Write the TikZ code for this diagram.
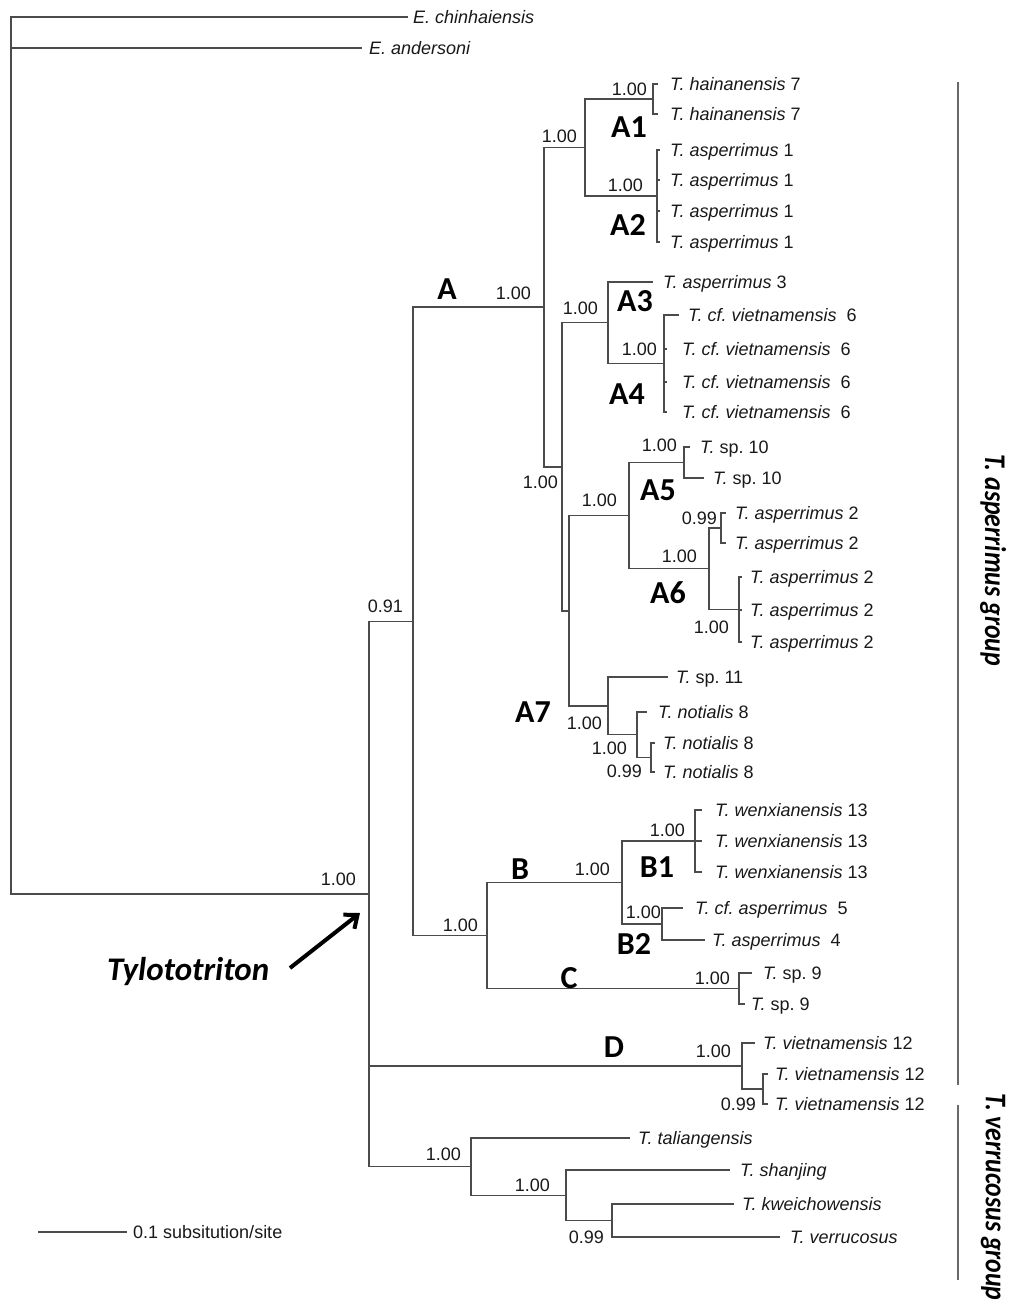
\documentclass[tikz,border=0pt]{standalone}
\usepackage{fontspec}
\setmainfont{Liberation Sans}
\newfontfamily\carlito{Carlito}
\usetikzlibrary{calc,arrows.meta}
\definecolor{linec}{RGB}{75,75,75}
\definecolor{txt}{RGB}{25,25,25}
\definecolor{grp}{RGB}{105,105,105}
\frenchspacing
\begin{document}
\begin{tikzpicture}[x=1pt,y=-1pt,
  br/.style={draw=linec, line width=1.4pt},
  leaf/.style={anchor=base west, inner sep=0pt, font=\fontsize{18}{20}\selectfont, text=txt},
  bs/.style={inner sep=0pt, font=\fontsize{18}{20}\selectfont, text=txt},
  bsa/.style={bs, anchor=south east},
  bsb/.style={bs, anchor=north east},
  clade/.style={inner sep=0pt, anchor=center, text=black, font=\carlito\bfseries\fontsize{32}{34}\selectfont},
  grpline/.style={draw=grp, line width=2.6pt},
  grplab/.style={inner sep=0pt, rotate=-90, text=black, font=\carlito\bfseries\itshape\fontsize{30}{32}\selectfont}
]
\fill[white] (0,0) rectangle (1011,1302);
\useasboundingbox (0,0) rectangle (1011,1302);

% ---------- internal nodes ----------
\coordinate (root) at (11,455.5);
\coordinate (nT)   at (369,894);
\coordinate (n091) at (413,621.3);
\coordinate (nA)   at (544,307.1);
\coordinate (nA12) at (585,147.5);
\coordinate (nA1)  at (653,99);
\coordinate (nA2)  at (657,196);
\coordinate (n562) at (562,466.8);
\coordinate (nA34) at (608,322.75);
\coordinate (nA4)  at (664,363.5);
\coordinate (n569) at (569,610.8);
\coordinate (nA56) at (629,515.6);
\coordinate (nA5)  at (684,462.5);
\coordinate (nA6)  at (709,568.75);
\coordinate (nA6a) at (721,528);
\coordinate (nA6b) at (739,609.5);
\coordinate (nA7)  at (608,705.9);
\coordinate (nN)   at (637,734.75);
\coordinate (nN2)  at (651,757.5);
\coordinate (nBC)  at (487,935.5);
\coordinate (nB)   at (622,882.5);
\coordinate (nB1)  at (695,841);
\coordinate (nB2)  at (662,924);
\coordinate (nC)   at (739,988.5);
\coordinate (nD)   at (742,1066);
\coordinate (nD2)  at (763,1089);
\coordinate (nV)   at (471,1166.6);
\coordinate (nV2)  at (566,1195.25);
\coordinate (nV3)  at (612,1220.5);

% ---------- leaf tips ----------
\coordinate (tChin) at (408,17);
\coordinate (tAnd)  at (362,48);
\coordinate (tH1) at (658,84);
\coordinate (tH2) at (658,114);
\coordinate (tP1a) at (660,150);
\coordinate (tP1b) at (660,180);
\coordinate (tP1c) at (660,211);
\coordinate (tP1d) at (660,242);
\coordinate (tP3) at (653,282);
\coordinate (tV1) at (679,315);
\coordinate (tV2) at (667,349);
\coordinate (tV3) at (667,382);
\coordinate (tV4) at (667,412);
\coordinate (tS10a) at (690,447);
\coordinate (tS10b) at (704,478);
\coordinate (tP2a) at (726,513);
\coordinate (tP2b) at (726,543);
\coordinate (tP2c) at (742,577);
\coordinate (tP2d) at (742,610);
\coordinate (tP2e) at (742,642);
\coordinate (tS11) at (668,677);
\coordinate (tN1) at (647,712);
\coordinate (tN2) at (655,743);
\coordinate (tN3) at (655,772);
\coordinate (tW1) at (702,810);
\coordinate (tW2) at (702,841);
\coordinate (tW3) at (702,872);
\coordinate (tCA5) at (683,908);
\coordinate (tA4) at (705,940);
\coordinate (tS9a) at (752,973);
\coordinate (tS9b) at (745,1004);
\coordinate (tVi1) at (755,1043);
\coordinate (tVi2) at (768,1074);
\coordinate (tVi3) at (768,1104);
\coordinate (tTal) at (630,1138);
\coordinate (tSha) at (730,1170);
\coordinate (tKwe) at (734,1204);
\coordinate (tVer) at (780,1237);

% ---------- branches ----------
\draw[br] (root) |- (tChin);
\draw[br] (root) |- (tAnd);
\draw[br] (root) |- (nT);
\draw[br] (nT) |- (n091);
\draw[br] (nT) |- (nD);
\draw[br] (nT) |- (nV);
\draw[br] (n091) |- (nA);
\draw[br] (n091) |- (nBC);
\draw[br] (nA) |- (nA12);
\draw[br] (nA) |- (n562);
\draw[br] (nA12) |- (nA1);
\draw[br] (nA12) |- (nA2);
\draw[br] (nA1) |- (tH1);
\draw[br] (nA1) |- (tH2);
\draw[br] (nA2) |- (tP1a);
\draw[br] (nA2) |- (tP1b);
\draw[br] (nA2) |- (tP1c);
\draw[br] (nA2) |- (tP1d);
\draw[br] (n562) |- (nA34);
\draw[br] (n562) |- (n569);
\draw[br] (nA34) |- (tP3);
\draw[br] (nA34) |- (nA4);
\draw[br] (nA4) |- (tV1);
\draw[br] (nA4) |- (tV2);
\draw[br] (nA4) |- (tV3);
\draw[br] (nA4) |- (tV4);
\draw[br] (n569) |- (nA56);
\draw[br] (n569) |- (nA7);
\draw[br] (nA56) |- (nA5);
\draw[br] (nA56) |- (nA6);
\draw[br] (nA5) |- (tS10a);
\draw[br] (nA5) |- (tS10b);
\draw[br] (nA6) |- (nA6a);
\draw[br] (nA6) |- (nA6b);
\draw[br] (nA6a) |- (tP2a);
\draw[br] (nA6a) |- (tP2b);
\draw[br] (nA6b) |- (tP2c);
\draw[br] (nA6b) |- (tP2d);
\draw[br] (nA6b) |- (tP2e);
\draw[br] (nA7) |- (tS11);
\draw[br] (nA7) |- (nN);
\draw[br] (nN) |- (tN1);
\draw[br] (nN) |- (nN2);
\draw[br] (nN2) |- (tN2);
\draw[br] (nN2) |- (tN3);
\draw[br] (nBC) |- (nB);
\draw[br] (nBC) |- (nC);
\draw[br] (nB) |- (nB1);
\draw[br] (nB) |- (nB2);
\draw[br] (nB1) |- (tW1);
\draw[br] (nB1) |- (tW2);
\draw[br] (nB1) |- (tW3);
\draw[br] (nB2) |- (tCA5);
\draw[br] (nB2) |- (tA4);
\draw[br] (nC) |- (tS9a);
\draw[br] (nC) |- (tS9b);
\draw[br] (nD) |- (tVi1);
\draw[br] (nD) |- (nD2);
\draw[br] (nD2) |- (tVi2);
\draw[br] (nD2) |- (tVi3);
\draw[br] (nV) |- (tTal);
\draw[br] (nV) |- (nV2);
\draw[br] (nV2) |- (tSha);
\draw[br] (nV2) |- (nV3);
\draw[br] (nV3) |- (tKwe);
\draw[br] (nV3) |- (tVer);

% ---------- leaf labels ----------
\node[leaf] (lChin) at (413,23.5) {\textit{E. chinhaiensis}};
\node[leaf] (lAnd) at (369,54.5) {\textit{E. andersoni}};
\node[leaf] (lH1) at (670,90.5) {\textit{T. hainanensis} 7};
\node[leaf] (lH2) at (670,120.5) {\textit{T. hainanensis} 7};
\node[leaf] (lP1a) at (670,156.5) {\textit{T. asperrimus} 1};
\node[leaf] (lP1b) at (670,186.5) {\textit{T. asperrimus} 1};
\node[leaf] (lP1c) at (670,217.5) {\textit{T. asperrimus} 1};
\node[leaf] (lP1d) at (670,248.5) {\textit{T. asperrimus} 1};
\node[leaf] (lP3) at (663,288.5) {\textit{T. asperrimus} 3};
\node[leaf] (lV1) at (688,321.5) {\textit{T. cf. vietnamensis}\ \ 6};
\node[leaf] (lV2) at (682,355.5) {\textit{T. cf. vietnamensis}\ \ 6};
\node[leaf] (lV3) at (682,388.5) {\textit{T. cf. vietnamensis}\ \ 6};
\node[leaf] (lV4) at (682,418.5) {\textit{T. cf. vietnamensis}\ \ 6};
\node[leaf] (lS10a) at (700,453.5) {\textit{T.} sp. 10};
\node[leaf] (lS10b) at (713,484.5) {\textit{T.} sp. 10};
\node[leaf] (lP2a) at (735,519.5) {\textit{T. asperrimus} 2};
\node[leaf] (lP2b) at (735,549.5) {\textit{T. asperrimus} 2};
\node[leaf] (lP2c) at (750,583.5) {\textit{T. asperrimus} 2};
\node[leaf] (lP2d) at (750,616.5) {\textit{T. asperrimus} 2};
\node[leaf] (lP2e) at (750,648.5) {\textit{T. asperrimus} 2};
\node[leaf] (lS11) at (676,683.5) {\textit{T.} sp. 11};
\node[leaf] (lN1) at (658,718.5) {\textit{T. notialis} 8};
\node[leaf] (lN2) at (663,749.5) {\textit{T. notialis} 8};
\node[leaf] (lN3) at (663,778.5) {\textit{T. notialis} 8};
\node[leaf] (lW1) at (715,816.5) {\textit{T. wenxianensis} 13};
\node[leaf] (lW2) at (715,847.5) {\textit{T. wenxianensis} 13};
\node[leaf] (lW3) at (715,878.5) {\textit{T. wenxianensis} 13};
\node[leaf] (lCA5) at (695,914.5) {\textit{T. cf. asperrimus}\ \ 5};
\node[leaf] (lA4) at (712,946.5) {\textit{T. asperrimus}\ \ 4};
\node[leaf] (lS9a) at (763,979.5) {\textit{T.} sp. 9};
\node[leaf] (lS9b) at (751,1010.5) {\textit{T.} sp. 9};
\node[leaf] (lVi1) at (763,1049.5) {\textit{T. vietnamensis} 12};
\node[leaf] (lVi2) at (775,1080.5) {\textit{T. vietnamensis} 12};
\node[leaf] (lVi3) at (775,1110.5) {\textit{T. vietnamensis} 12};
\node[leaf] (lTal) at (638,1144.5) {\textit{T. taliangensis}};
\node[leaf] (lSha) at (740,1176.5) {\textit{T. shanjing}};
\node[leaf] (lKwe) at (742,1210.5) {\textit{T. kweichowensis}};
\node[leaf] (lVer) at (790,1243.5) {\textit{T. verrucosus}};

% ---------- support values ----------
\node[bsa] (sT)   at ($(nT)+(-13,-8)$) {1.00};
\node[bsa] (s091) at ($(n091)+(-10,-8)$) {0.91};
\node[bsa] (sBC)  at ($(nBC)+(-9,-4)$) {1.00};
\node[bsa] (sA)   at ($(nA)+(-13,-7.5)$) {1.00};
\node[bsa] (sA12) at ($(nA12)+(-8,-5)$) {1.00};
\node[bsa] (sA1)  at ($(nA1)+(-6,-3.5)$) {1.00};
\node[bsa] (sA2)  at ($(nA2)+(-14,-4.5)$) {1.00};
\node[bsa] (sA34) at ($(nA34)+(-10,-8)$) {1.00};
\node[bsa] (sA4)  at ($(nA4)+(-7,-8)$) {1.00};
\node[bsb] (s562) at ($(n562)+(-4,9)$) {1.00};
\node[bsa] (sA56) at ($(nA56)+(-12,-9)$) {1.00};
\node[bsa] (sA5)  at ($(nA5)+(-7,-11)$) {1.00};
\node[bsa] (sA6)  at ($(nA6)+(-12,-6)$) {1.00};
\node[bsa] (sA6a) at ($(nA6a)+(-4,-3.5)$) {0.99};
\node[bsb] (sA6b) at ($(nA6b)+(-10,11)$) {1.00};
\node[bsb] (sA7)  at ($(nA7)+(-6,10.5)$) {1.00};
\node[bsb] (sN)   at ($(nN)+(-10,7)$) {1.00};
\node[bsb] (sN2)  at ($(nN2)+(-9,7)$) {0.99};
\node[bsa] (sB)   at ($(nB)+(-12,-7)$) {1.00};
\node[bsa] (sB1)  at ($(nB1)+(-10,-4.5)$) {1.00};
\node[bsa] (sB2)  at ($(nB2)+(-1,-5)$) {1.00};
\node[bsa] (sC)   at ($(nC)+(-9,-4)$) {1.00};
\node[bsa] (sD)   at ($(nD)+(-11,-8.5)$) {1.00};
\node[bsb] (sD2)  at ($(nD2)+(-7,8.5)$) {0.99};
\node[bsa] (sV)   at ($(nV)+(-10,-6)$) {1.00};
\node[bsa] (sV2)  at ($(nV2)+(-16,-3)$) {1.00};
\node[bsb] (sV3)  at ($(nV3)+(-8,10)$) {0.99};

% ---------- clade labels ----------
\node[clade] (cA)  at (447,289) {A};
\node[clade] (cA1) at (629,127) {A1};
\node[clade] (cA2) at (628,225) {A2};
\node[clade] (cA3) at (635,301) {A3};
\node[clade] (cA4) at (627,394) {A4};
\node[clade] (cA5) at (658,490) {A5};
\node[clade] (cA6) at (668,593) {A6};
\node[clade] (cA7) at (533,712) {A7};
\node[clade] (cB)  at (520,869) {B};
\node[clade] (cB1) at (657,867) {B1};
\node[clade] (cB2) at (634,944) {B2};
\node[clade] (cC)  at (569,978) {C};
\node[clade] (cD)  at (614,1047) {D};

% ---------- Tylototriton arrow ----------
\node[inner sep=0pt, anchor=base west, font=\carlito\bfseries\itshape\fontsize{33}{35}\selectfont] (tylo) at (107,980) {Tylototriton};
\coordinate (arS) at (290,968);
\coordinate (arE) at (360,913);
\draw[line width=4pt, -{Straight Barb[length=11pt,width=18pt]}] (arS) -- (arE);

% ---------- scale bar ----------
\coordinate (sb1) at (38,1232);
\coordinate (sb2) at (127,1232);
\draw[br] (sb1) -- (sb2);
\node[bs, anchor=west] (sbl) at (133,1232) {0.1 subsitution/site};

% ---------- groups ----------
\coordinate (g1a) at (958,82);
\coordinate (g1b) at (958,1085);
\coordinate (g2a) at (958,1105);
\coordinate (g2b) at (958,1280);
\draw[grpline] (g1a) -- (g1b);
\draw[grpline] (g2a) -- (g2b);
\node[grplab] (gA) at (993,560) {\scalebox{0.86}[1]{T. asperrimus group}};
\node[grplab] (gV) at (993,1197) {\scalebox{0.86}[1]{T. verrucosus group}};
\end{tikzpicture}
\end{document}
